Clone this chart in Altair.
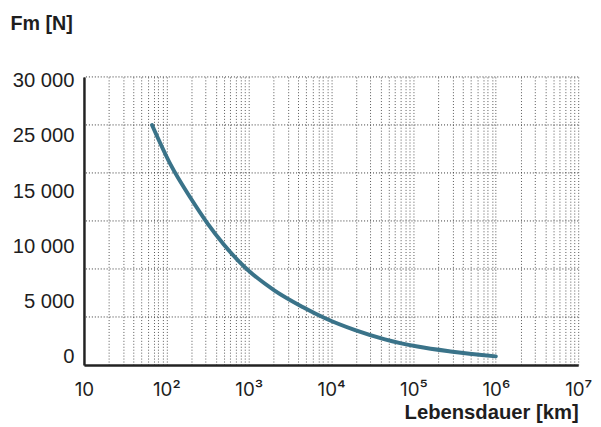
import json
import altair as alt
import pandas as pd

# ---- data -------------------------------------------------------------
life_km = [67, 114, 198, 314, 498, 904, 2065, 4520, 8600, 19600, 45000, 112000, 282000, 1000000]
force_n = [25000, 20780, 17360, 14780, 12550, 10150, 7750, 6040, 4840, 3630, 2670, 1920, 1410, 900]

y_gridlines = [5000, 10000, 15000, 20000, 25000, 30000]
y_tick_labels = ["0", "5 000", "10 000", "15 000", "25 000", "30 000"]
x_tick_labels = ["10", "10²", "10³", "10⁴", "10⁵", "10⁶", "10⁷"]

FONT = "Liberation Sans"
SUP_FONT = "Inter"
TEXT = "#1e1e1e"
LINE = "#3a7389"

# ---- helpers ----------------------------------------------------------
curve = pd.DataFrame({"life": life_km, "force": force_n})
grid = pd.DataFrame({"g": y_gridlines})

x_scale = alt.Scale(type="log", domain=[10, 10**7], nice=False)
y_scale = alt.Scale(domain=[0, 30000], nice=False, zero=True)

# vertical log grid: 1..9 x 10^k
x_grid_vals = [m * 10**k for k in range(1, 7) for m in range(1, 10)] + [10**7]
pw = "round(log(datum.value)/LN10)"
x_label_expr = (
    f"abs(log(datum.value)/LN10 - {pw}) < 0.001 ? "
    f"{json.dumps(x_tick_labels, ensure_ascii=False)}[{pw} - 1] : ''"
)

# y labels in the reference are evenly spread, not on the gridlines
lo, hi = 875.0, 29580.0
step = (hi - lo) / (len(y_tick_labels) - 1)
y_label_pos = [lo + i * step for i in range(len(y_tick_labels))]
y_label_expr = (
    f"{json.dumps(y_tick_labels, ensure_ascii=False)}"
    f"[round((datum.value - {lo})/{step})]"
)

x_axis = alt.Axis(
    values=x_grid_vals,
    labelExpr=x_label_expr,
    labelOverlap=False,
    labelFlush=False,
    grid=True,
    gridDash=[1, 2],
    gridColor="#555",
    gridWidth=1,
    ticks=False,
    tickSize=0,
    domain=True,
    domainColor="#222",
    domainWidth=2.5,
    labelPadding=16,
    labelFont=SUP_FONT,
    labelFontSize=19,
    labelColor=TEXT,
    title="Lebensdauer [km]",
    titleFont=FONT,
    titleFontSize=20.5,
    titleFontWeight="bold",
    titleColor=TEXT,
    titleAlign="right",
    titleAnchor="end",
    titleBaseline="alphabetic",
    titleX=501,
    titleY=54,
)

y_axis = alt.Axis(
    values=y_label_pos,
    labelExpr=y_label_expr,
    labelOverlap=False,
    labelFlush=False,
    grid=False,
    ticks=False,
    tickSize=0,
    domain=True,
    domainColor="#222",
    domainWidth=2.5,
    labelPadding=10,
    labelFont=FONT,
    labelFontSize=20.5,
    labelColor=TEXT,
    title="Fm [N]",
    titleFont=FONT,
    titleFontSize=20,
    titleFontWeight="bold",
    titleColor=TEXT,
    titleAngle=0,
    titleAlign="left",
    titleBaseline="alphabetic",
    titleX=-75,
    titleY=-48,
)

rules = alt.Chart(grid).mark_rule(
    strokeDash=[1, 2], color="#333", strokeWidth=1
).encode(
    y=alt.Y("g:Q", scale=y_scale, axis=y_axis),
)

line = alt.Chart(curve).mark_line(
    color=LINE, strokeWidth=4, interpolate="monotone", strokeCap="round"
).encode(
    x=alt.X("life:Q", scale=x_scale, axis=x_axis),
    y=alt.Y("force:Q", scale=y_scale, axis=y_axis),
)

chart = alt.layer(rules, line).properties(
    width=501,
    height=292,
    autosize=alt.AutoSizeParams(type="none"),
    padding={"left": 77, "top": 67, "right": 15, "bottom": 60},
    background="white",
).configure_view(stroke=None)

chart.save("out.html", embed_options={"renderer": "svg", "actions": False})
